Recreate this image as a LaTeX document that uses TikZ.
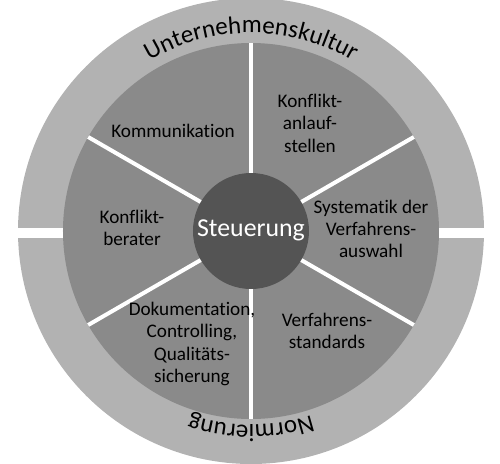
\documentclass[tikz,border=0pt]{standalone}
\usepackage{fontspec}
\setmainfont{Carlito}[Ligatures=NoCommon]
\usetikzlibrary{decorations.text}
\definecolor{ringgray}{gray}{0.70}
\definecolor{sectorgray}{gray}{0.54}
\definecolor{coregray}{gray}{0.33}
\begin{document}
\begin{tikzpicture}[x=0.5pt, y=0.5pt,
    sectortext/.style={align=center, font=\fontsize{9.6}{11.2}\selectfont},
    spoke/.style={draw=white, line width=2pt}]
                \useasboundingbox (-251,-232) rectangle (249,231);
                \clip (-251,-232) rectangle (249,231);

                \fill[ringgray] (0,0) circle[radius=233];

                \fill[white] (-240,-7) rectangle (240,3);

                \fill[sectorgray] (0,0) circle[radius=188];

                \draw[spoke] (0,0) -- (90:188);
                \draw[spoke] (0,0) -- (30:188);
                \draw[spoke] (0,0) -- (-30:188);
                \draw[spoke] (0,0) -- (-90:188);
                \draw[spoke] (0,0) -- (-150:188);
                \draw[spoke] (0,0) -- (150:188);

                \fill[coregray] (0,0) circle[radius=58];

                \node[text=white, font=\fontsize{12.9}{15}\selectfont] (steuerung) at (0,1) {Steuerung};

                \node[sectortext] (kommunikation) at (-78,100) {Kommunikation};
                \node[sectortext] (anlaufstellen) at (59,108) {Konflikt-\\anlauf-\\stellen};
                \node[sectortext] (berater) at (-119,3) {Konflikt-\\berater};
                \node[sectortext] (systematik) at (120,2) {Systematik der\\Verfahrens-\\auswahl};
                \node[sectortext] (dokumentation) at (-59,-113) {Dokumentation,\\Controlling,\\Qualitäts-\\sicherung};
                \node[sectortext] (standards) at (76,-100) {Verfahrens-\\standards};

                \path[decorate, decoration={text along path, text align=center,
                    text={|\fontsize{12.5}{15}\selectfont|Unternehmenskultur}}]
                    (180:198) arc[radius=198, start angle=180, end angle=0];

                \path[decorate, decoration={text along path, text align=center,
                    text={|\fontsize{12.5}{15}\selectfont|Normierung}}]
                    (0:194) arc[radius=194, start angle=0, end angle=-180];
            \end{tikzpicture}
\end{document}
